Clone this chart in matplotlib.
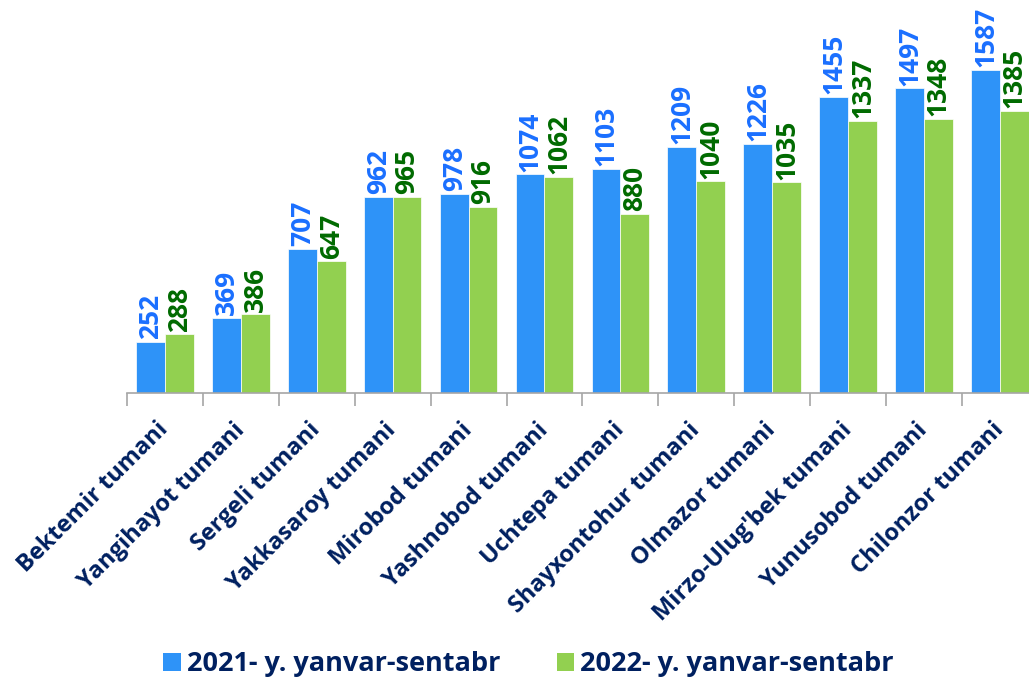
import matplotlib
matplotlib.use("Agg")
import matplotlib.pyplot as plt
from matplotlib.patches import Patch
import numpy as np

categories = ["Bektemir tumani", "Yangihayot tumani", "Sergeli tumani", "Yakkasaroy tumani",
              "Mirobod tumani", "Yashnobod tumani", "Uchtepa tumani", "Shayxontohur tumani",
              "Olmazor tumani", "Mirzo-Ulug'bek tumani", "Yunusobod tumani", "Chilonzor tumani"]
values_2021 = [252, 369, 707, 962, 978, 1074, 1103, 1209, 1226, 1455, 1497, 1587]
values_2022 = [288, 386, 647, 965, 916, 1062, 880, 1040, 1035, 1337, 1348, 1385]
series_names = ["2021- y. yanvar-sentabr", "2022- y. yanvar-sentabr"]

bar_blue = "#2E93F8"
bar_green = "#92D050"
lab_blue = "#1A6FFF"
lab_green = "#006A00"
navy = "#002060"

W, H = 1029, 678
fig = plt.figure(figsize=(W / 100, H / 100), dpi=100)
left = 127 / W
bottom = 1 - 393 / H
width = 12 * 75.9 / W
height = 1700 * 0.2035 / H
ax = fig.add_axes([left, bottom, width, height])

x = np.arange(len(categories))
bw = 0.38
ax.bar(x - bw / 2, values_2021, bw, color=bar_blue, edgecolor="white", linewidth=0.5)
ax.bar(x + bw / 2, values_2022, bw, color=bar_green, edgecolor="white", linewidth=0.5)

num_font = dict(family=["Open Sans", "DejaVu Sans"], fontweight="bold", fontsize=19)
for xi, v in zip(x, values_2021):
    ax.annotate(str(v), (xi - bw / 2, v), xytext=(0, 2), textcoords="offset points",
                rotation=90, ha="center", va="bottom", color=lab_blue, **num_font)
for xi, v in zip(x, values_2022):
    ax.annotate(str(v), (xi + bw / 2, v), xytext=(0, 2), textcoords="offset points",
                rotation=90, ha="center", va="bottom", color=lab_green, **num_font)

ax.set_xlim(-0.5, 11.5)
ax.set_ylim(0, 1700)
ax.set_yticks([])
for s in ["top", "right", "left"]:
    ax.spines[s].set_visible(False)
ax.spines["bottom"].set_color("#A6A6A6")
ax.spines["bottom"].set_linewidth(1.2)

ax.set_xticks(np.arange(-0.5, 11.6, 1.0))
ax.set_xticklabels([])
ax.tick_params(axis="x", length=9, width=1.2, color="#A6A6A6")

for xi, c in zip(x, categories):
    ax.annotate(c, (xi, 0), xytext=(0, -24), textcoords="offset points",
                rotation=45, rotation_mode="anchor", ha="right", va="center",
                color=navy, family=["Open Sans", "DejaVu Sans"], fontweight="bold", fontsize=17)

handles = [Patch(facecolor=bar_blue), Patch(facecolor=bar_green)]
leg = fig.legend(handles, series_names, loc="center", bbox_to_anchor=(0.5136, 0.020),
                 ncol=2, frameon=False, handlelength=0.64, handleheight=0.64,
                 handletextpad=0.22, columnspacing=2.1,
                 prop=dict(family=["Open Sans", "DejaVu Sans"], weight="bold", size=19.5))
for t in leg.get_texts():
    t.set_color(navy)

fig.savefig("out.png", dpi=100)
